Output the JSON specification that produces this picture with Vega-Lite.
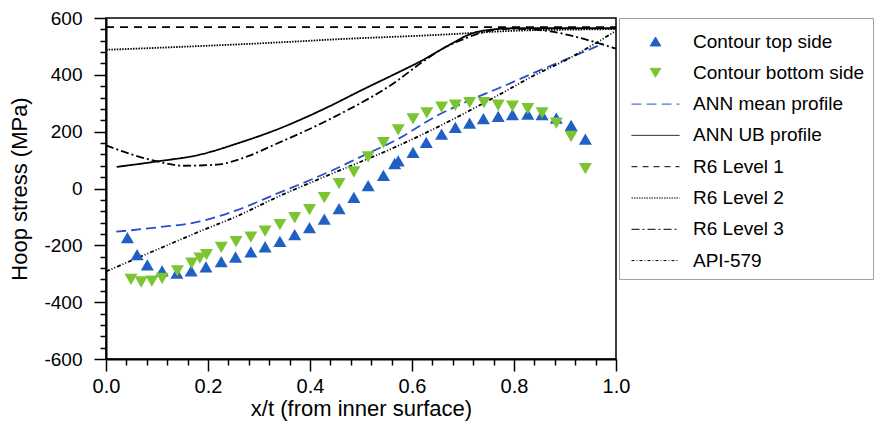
{
  "$schema": "https://vega.github.io/schema/vega-lite/v6.json",
  "autosize": {"type": "none"},
  "padding": {"left": 106, "top": 18, "right": 262, "bottom": 75},
  "width": 510,
  "height": 341,
  "background": "white",
  "config": {
    "view": {"stroke": "black", "strokeWidth": 1.5},
    "font": "Liberation Sans",
    "axis": {"labelFont": "Liberation Sans", "titleFont": "Liberation Sans", "labelColor": "black", "titleColor": "black", "titleFontWeight": "normal", "domainColor": "black", "domainWidth": 2, "tickColor": "black", "tickWidth": 1.5, "grid": false, "labelOverlap": false, "labelFlush": false}
  },
  "datasets": {
    "pts": [
      {"x": 0.042, "y": -173, "series": "Contour top side"},
      {"x": 0.061, "y": -233, "series": "Contour top side"},
      {"x": 0.081, "y": -269, "series": "Contour top side"},
      {"x": 0.110, "y": -290, "series": "Contour top side"},
      {"x": 0.139, "y": -298, "series": "Contour top side"},
      {"x": 0.167, "y": -290, "series": "Contour top side"},
      {"x": 0.196, "y": -276, "series": "Contour top side"},
      {"x": 0.226, "y": -257, "series": "Contour top side"},
      {"x": 0.254, "y": -241, "series": "Contour top side"},
      {"x": 0.284, "y": -223, "series": "Contour top side"},
      {"x": 0.312, "y": -205, "series": "Contour top side"},
      {"x": 0.341, "y": -186, "series": "Contour top side"},
      {"x": 0.370, "y": -162, "series": "Contour top side"},
      {"x": 0.399, "y": -138, "series": "Contour top side"},
      {"x": 0.428, "y": -108, "series": "Contour top side"},
      {"x": 0.457, "y": -71, "series": "Contour top side"},
      {"x": 0.486, "y": -31, "series": "Contour top side"},
      {"x": 0.514, "y": 10, "series": "Contour top side"},
      {"x": 0.544, "y": 46, "series": "Contour top side"},
      {"x": 0.566, "y": 88, "series": "Contour top side"},
      {"x": 0.573, "y": 97, "series": "Contour top side"},
      {"x": 0.602, "y": 127, "series": "Contour top side"},
      {"x": 0.628, "y": 162, "series": "Contour top side"},
      {"x": 0.658, "y": 191, "series": "Contour top side"},
      {"x": 0.685, "y": 215, "series": "Contour top side"},
      {"x": 0.713, "y": 230, "series": "Contour top side"},
      {"x": 0.740, "y": 246, "series": "Contour top side"},
      {"x": 0.769, "y": 254, "series": "Contour top side"},
      {"x": 0.797, "y": 260, "series": "Contour top side"},
      {"x": 0.827, "y": 262, "series": "Contour top side"},
      {"x": 0.855, "y": 260, "series": "Contour top side"},
      {"x": 0.883, "y": 248, "series": "Contour top side"},
      {"x": 0.912, "y": 222, "series": "Contour top side"},
      {"x": 0.940, "y": 174, "series": "Contour top side"},
      {"x": 0.049, "y": -320, "series": "Contour bottom side"},
      {"x": 0.069, "y": -329, "series": "Contour bottom side"},
      {"x": 0.090, "y": -326, "series": "Contour bottom side"},
      {"x": 0.110, "y": -316, "series": "Contour bottom side"},
      {"x": 0.140, "y": -290, "series": "Contour bottom side"},
      {"x": 0.168, "y": -263, "series": "Contour bottom side"},
      {"x": 0.184, "y": -245, "series": "Contour bottom side"},
      {"x": 0.197, "y": -233, "series": "Contour bottom side"},
      {"x": 0.226, "y": -207, "series": "Contour bottom side"},
      {"x": 0.255, "y": -187, "series": "Contour bottom side"},
      {"x": 0.284, "y": -171, "series": "Contour bottom side"},
      {"x": 0.312, "y": -150, "series": "Contour bottom side"},
      {"x": 0.341, "y": -127, "series": "Contour bottom side"},
      {"x": 0.370, "y": -103, "series": "Contour bottom side"},
      {"x": 0.399, "y": -74, "series": "Contour bottom side"},
      {"x": 0.428, "y": -32, "series": "Contour bottom side"},
      {"x": 0.457, "y": 17, "series": "Contour bottom side"},
      {"x": 0.486, "y": 58, "series": "Contour bottom side"},
      {"x": 0.514, "y": 111, "series": "Contour bottom side"},
      {"x": 0.544, "y": 161, "series": "Contour bottom side"},
      {"x": 0.573, "y": 206, "series": "Contour bottom side"},
      {"x": 0.602, "y": 245, "series": "Contour bottom side"},
      {"x": 0.629, "y": 266, "series": "Contour bottom side"},
      {"x": 0.658, "y": 286, "series": "Contour bottom side"},
      {"x": 0.685, "y": 293, "series": "Contour bottom side"},
      {"x": 0.713, "y": 302, "series": "Contour bottom side"},
      {"x": 0.741, "y": 302, "series": "Contour bottom side"},
      {"x": 0.769, "y": 293, "series": "Contour bottom side"},
      {"x": 0.797, "y": 290, "series": "Contour bottom side"},
      {"x": 0.827, "y": 281, "series": "Contour bottom side"},
      {"x": 0.855, "y": 266, "series": "Contour bottom side"},
      {"x": 0.883, "y": 230, "series": "Contour bottom side"},
      {"x": 0.912, "y": 183, "series": "Contour bottom side"},
      {"x": 0.940, "y": 70, "series": "Contour bottom side"}
    ],
    "lines": [
      {"x": 0.02, "y": -152, "series": "ANN mean profile"},
      {"x": 0.10, "y": -137, "series": "ANN mean profile"},
      {"x": 0.184, "y": -116, "series": "ANN mean profile"},
      {"x": 0.26, "y": -74, "series": "ANN mean profile"},
      {"x": 0.33, "y": -22, "series": "ANN mean profile"},
      {"x": 0.439, "y": 60, "series": "ANN mean profile"},
      {"x": 0.50, "y": 112, "series": "ANN mean profile"},
      {"x": 0.57, "y": 172, "series": "ANN mean profile"},
      {"x": 0.655, "y": 262, "series": "ANN mean profile"},
      {"x": 0.70, "y": 300, "series": "ANN mean profile"},
      {"x": 0.786, "y": 365, "series": "ANN mean profile"},
      {"x": 0.83, "y": 400, "series": "ANN mean profile"},
      {"x": 0.916, "y": 465, "series": "ANN mean profile"},
      {"x": 0.975, "y": 510, "series": "ANN mean profile"},
      {"x": 0.021, "y": 76, "series": "ANN UB profile"},
      {"x": 0.099, "y": 95, "series": "ANN UB profile"},
      {"x": 0.184, "y": 119, "series": "ANN UB profile"},
      {"x": 0.26, "y": 160, "series": "ANN UB profile"},
      {"x": 0.33, "y": 204, "series": "ANN UB profile"},
      {"x": 0.439, "y": 290, "series": "ANN UB profile"},
      {"x": 0.50, "y": 345, "series": "ANN UB profile"},
      {"x": 0.57, "y": 406, "series": "ANN UB profile"},
      {"x": 0.616, "y": 447, "series": "ANN UB profile"},
      {"x": 0.668, "y": 500, "series": "ANN UB profile"},
      {"x": 0.72, "y": 547, "series": "ANN UB profile"},
      {"x": 0.76, "y": 560, "series": "ANN UB profile"},
      {"x": 0.80, "y": 564, "series": "ANN UB profile"},
      {"x": 1.0, "y": 564, "series": "ANN UB profile"},
      {"x": 0.0, "y": 568, "series": "R6 Level 1"},
      {"x": 1.0, "y": 568, "series": "R6 Level 1"},
      {"x": 0.0, "y": 488, "series": "R6 Level 2"},
      {"x": 0.38, "y": 518, "series": "R6 Level 2"},
      {"x": 0.44, "y": 524, "series": "R6 Level 2"},
      {"x": 0.655, "y": 541, "series": "R6 Level 2"},
      {"x": 0.80, "y": 555, "series": "R6 Level 2"},
      {"x": 0.95, "y": 560, "series": "R6 Level 2"},
      {"x": 1.0, "y": 561, "series": "R6 Level 2"},
      {"x": 0.0, "y": 152, "series": "R6 Level 3"},
      {"x": 0.05, "y": 120, "series": "R6 Level 3"},
      {"x": 0.099, "y": 96, "series": "R6 Level 3"},
      {"x": 0.152, "y": 80, "series": "R6 Level 3"},
      {"x": 0.217, "y": 84, "series": "R6 Level 3"},
      {"x": 0.28, "y": 115, "series": "R6 Level 3"},
      {"x": 0.33, "y": 154, "series": "R6 Level 3"},
      {"x": 0.44, "y": 245, "series": "R6 Level 3"},
      {"x": 0.57, "y": 378, "series": "R6 Level 3"},
      {"x": 0.62, "y": 445, "series": "R6 Level 3"},
      {"x": 0.66, "y": 492, "series": "R6 Level 3"},
      {"x": 0.70, "y": 525, "series": "R6 Level 3"},
      {"x": 0.74, "y": 550, "series": "R6 Level 3"},
      {"x": 0.786, "y": 562, "series": "R6 Level 3"},
      {"x": 0.83, "y": 560, "series": "R6 Level 3"},
      {"x": 0.871, "y": 553, "series": "R6 Level 3"},
      {"x": 0.929, "y": 530, "series": "R6 Level 3"},
      {"x": 1.0, "y": 492, "series": "R6 Level 3"},
      {"x": 0.0, "y": -292, "series": "API-579"},
      {"x": 0.1, "y": -215, "series": "API-579"},
      {"x": 0.184, "y": -151, "series": "API-579"},
      {"x": 0.26, "y": -95, "series": "API-579"},
      {"x": 0.33, "y": -35, "series": "API-579"},
      {"x": 0.44, "y": 50, "series": "API-579"},
      {"x": 0.57, "y": 148, "series": "API-579"},
      {"x": 0.66, "y": 225, "series": "API-579"},
      {"x": 0.70, "y": 262, "series": "API-579"},
      {"x": 0.786, "y": 345, "series": "API-579"},
      {"x": 0.83, "y": 389, "series": "API-579"},
      {"x": 0.91, "y": 460, "series": "API-579"},
      {"x": 1.0, "y": 555, "series": "API-579"}
    ]
  },
  "encoding": {
    "x": {
      "field": "x", "type": "quantitative",
      "scale": {"domain": [0, 1], "nice": false, "zero": false},
      "axis": {
        "title": "x/t (from inner surface)",
        "values": [0, 0.04, 0.08, 0.12, 0.16, 0.2, 0.24, 0.28, 0.32, 0.36, 0.4, 0.44, 0.48, 0.52, 0.56, 0.6, 0.64, 0.68, 0.72, 0.76, 0.8, 0.84, 0.88, 0.92, 0.96, 1.0],
        "labelExpr": "abs(datum.value*5 - round(datum.value*5)) < 0.001 ? format(datum.value, '.1f') : ''",
        "tickSize": {"condition": {"test": "abs(datum.value*5 - round(datum.value*5)) < 0.001", "value": 12}, "value": 6},
        "labelFontSize": 20, "titleFontSize": 22, "labelPadding": 5, "titlePadding": 2
      }
    },
    "y": {
      "field": "y", "type": "quantitative",
      "scale": {"domain": [-600, 600], "nice": false},
      "axis": {
        "title": "Hoop stress (MPa)",
        "values": [-600, -560, -520, -480, -440, -400, -360, -320, -280, -240, -200, -160, -120, -80, -40, 0, 40, 80, 120, 160, 200, 240, 280, 320, 360, 400, 440, 480, 520, 560, 600],
        "labelExpr": "datum.value % 200 === 0 ? '' + datum.value : ''",
        "tickSize": {"condition": {"test": "datum.value % 200 === 0", "value": 12}, "value": 6},
        "labelFontSize": 19, "titleFontSize": 22, "labelPadding": 12, "titlePadding": 12
      }
    },
    "color": {
      "field": "series", "type": "nominal",
      "scale": {
        "domain": ["Contour top side", "Contour bottom side", "ANN mean profile", "ANN UB profile", "R6 Level 1", "R6 Level 2", "R6 Level 3", "API-579"],
        "range": ["#2060c4", "#7cc532", "#2a4fc8", "black", "black", "black", "black", "black"]
      },
      "legend": {
        "title": null,
        "orient": "none",
        "legendX": 513,
        "legendY": 0,
        "padding": 8,
        "strokeColor": "#a0a0a0",
        "fillColor": "white",
        "cornerRadius": 0,
        "rowPadding": 5.3,
        "symbolSize": 900,
        "symbolStrokeWidth": 1,
        "symbolOffset": 13,
        "labelOffset": 22,
        "labelFont": "Liberation Sans",
        "labelFontSize": 19,
        "labelColor": "black",
        "labelLimit": 400,
        "encode": {
          "symbols": {
            "update": {
              "shape": [
                {"test": "datum.value === 'Contour top side'", "value": "M0,-0.3L0.36,0.3L-0.36,0.3Z"},
                {"test": "datum.value === 'Contour bottom side'", "value": "M0,0.3L0.36,-0.3L-0.36,-0.3Z"},
                {"value": "M-1.6,0H1.6"}
              ],
              "fill": [
                {"test": "datum.value === 'Contour top side'", "value": "#2060c4"},
                {"test": "datum.value === 'Contour bottom side'", "value": "#7cc532"},
                {"value": "transparent"}
              ],
              "stroke": [
                {"test": "datum.value === 'ANN mean profile'", "value": "#2a4fc8"},
                {"test": "datum.value === 'Contour top side' || datum.value === 'Contour bottom side'", "value": "transparent"},
                {"value": "black"}
              ],
              "strokeDash": [
                {"test": "datum.value === 'ANN mean profile'", "value": [10, 5]},
                {"test": "datum.value === 'R6 Level 1'", "value": [6, 5]},
                {"test": "datum.value === 'R6 Level 2'", "value": [1.5, 1]},
                {"test": "datum.value === 'R6 Level 3'", "value": [8, 3, 2, 3]},
                {"test": "datum.value === 'API-579'", "value": [3, 2, 1, 2]},
                {"value": [1, 0]}
              ],
              "opacity": {"value": 1}
            }
          }
        }
      }
    }
  },
  "layer": [
    {
      "data": {"name": "lines"},
      "mark": {"type": "line", "interpolate": "monotone", "strokeWidth": 1.8},
      "encoding": {
        "strokeDash": {
          "field": "series", "type": "nominal",
          "scale": {
            "domain": ["ANN mean profile", "ANN UB profile", "R6 Level 1", "R6 Level 2", "R6 Level 3", "API-579"],
            "range": [[10, 5], [1, 0], [8, 6], [1.5, 1.2], [8, 3, 2, 3], [4, 2, 1, 2, 1, 2]]
          },
          "legend": null
        }
      }
    },
    {
      "data": {"name": "pts"},
      "mark": {"type": "point", "filled": true, "opacity": 1, "size": 170},
      "encoding": {
        "shape": {
          "field": "series", "type": "nominal",
          "scale": {"domain": ["Contour top side", "Contour bottom side"], "range": ["triangle-up", "triangle-down"]},
          "legend": null
        }
      }
    }
  ]
}
